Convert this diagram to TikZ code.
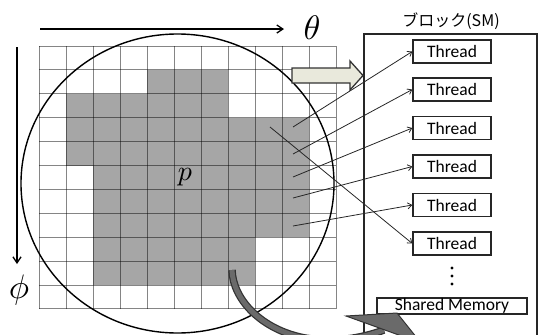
\documentclass[tikz,border=0pt]{standalone}
\usepackage{fontspec}
\setmainfont{Carlito}
\newfontfamily\cjk{Noto Sans CJK JP}
\usetikzlibrary{arrows.meta}
\definecolor{cellgray}{HTML}{A6A6A6}
\definecolor{arrowfill}{HTML}{E9E9DC}
\definecolor{bandgray}{HTML}{6A6A6A}
\tikzset{
  thread/.style={draw=black!85,line width=1.4pt,minimum width=78pt,minimum height=23pt,inner sep=0pt,font=\fontsize{17.5}{17.5}\selectfont},
  memory/.style={draw=black!85,line width=1.4pt,minimum width=150pt,minimum height=16pt,inner sep=0pt,font=\fontsize{17.5}{17.5}\selectfont},
  arr/.style={draw=black!85,line width=0.8pt,-{Straight Barb[length=4pt,width=6pt]}},
  axisarr/.style={line width=1.3pt,-{Straight Barb[length=6pt,width=8pt]}},
  gridline/.style={draw=black,opacity=0.48,line width=1pt},
  boxline/.style={draw=black!85,line width=1.4pt},
}
\begin{document}
\begin{tikzpicture}[x=1pt,y=-1pt]
\useasboundingbox (0,0) rectangle (539,335);
\begin{scope}
\clip (0,0) rectangle (539,335);
% shaded cells: row/first col/last col
\foreach \r/\a/\b in {1/4/6,2/1/6,3/1/9,4/1/9,5/2/9,6/2/9,7/2/9,8/2/7,9/2/7}
  \fill[cellgray] ({39+27*\a},{46+23.9*\r}) rectangle ({39+27*(\b+1)},{46+23.9*(\r+1)});
% grid
\foreach \i in {0,...,11} {
  \draw[gridline] ({39+27*\i},46) -- ({39+27*\i},309);
  \draw[gridline] (39,{46+23.9*\i}) -- (336,{46+23.9*\i});
}
% circle
\draw[line width=1.4pt] (177.5,183.5) ellipse [x radius=156.5, y radius=149.5];
% axes
\coordinate (thA) at (40,29);
\coordinate (thB) at (284,29);
\draw[axisarr] (thA) -- (thB);
\coordinate (phA) at (17,47);
\coordinate (phB) at (17,264);
\draw[axisarr] (phA) -- (phB);
\node (theta) at (312,28) {\scalebox{3.4}{$\theta$}};
\node (phi) at (19,290) {\scalebox{3.4}{$\phi$}};
\node (p) at (185,177) {\scalebox{2.8}{$p$}};
% block box
\draw[boxline] (364,340) -- (364,34) -- (537,34) -- (537,340);
\node[font=\cjk\fontsize{16}{16}\selectfont] (blk) at (451,21) {ブロック(SM)};
% block arrow
\filldraw[fill=arrowfill,draw=black!80,line width=1.3pt]
  (292,68) -- (350,68) -- (350,61) -- (363,75.5) -- (350,90) -- (350,83) -- (292,83) -- cycle;
% threads
\foreach \n/\y in {1/51.5,2/89.5,3/128,4/166.5,5/205,6/243.5}
  \node[thread] (t\n) at (452,\y) {Thread};
\foreach \y in {268,276,284}
  \fill (452,\y) circle (1.7);
\node[memory] (mem) at (452,306) {Shared Memory};
% start points in the cells
\coordinate (s1) at (293,127);
\coordinate (s2) at (293,154);
\coordinate (s3) at (293,177);
\coordinate (s4) at (293,198);
\coordinate (s5) at (293,226);
\coordinate (s6) at (270,127);
\foreach \n in {1,...,6}
  \draw[arr] (s\n) -- (t\n.west);
% curved arrow
\coordinate (cA) at (232,270);
\coordinate (cB) at (384,330);
\draw[line width=7.5pt,black!80] (cA) .. controls (233,300) and (262,330) .. (305,338) .. controls (335,343) and (362,338) .. (cB);
\draw[line width=5pt,bandgray] (cA) .. controls (233,300) and (262,330) .. (305,338) .. controls (335,343) and (362,338) .. (cB);
\filldraw[fill=bandgray,draw=black!80,line width=1pt] (346,316) -- (397,313) -- (421,343) -- cycle;
\end{scope}
\end{tikzpicture}
\end{document}
